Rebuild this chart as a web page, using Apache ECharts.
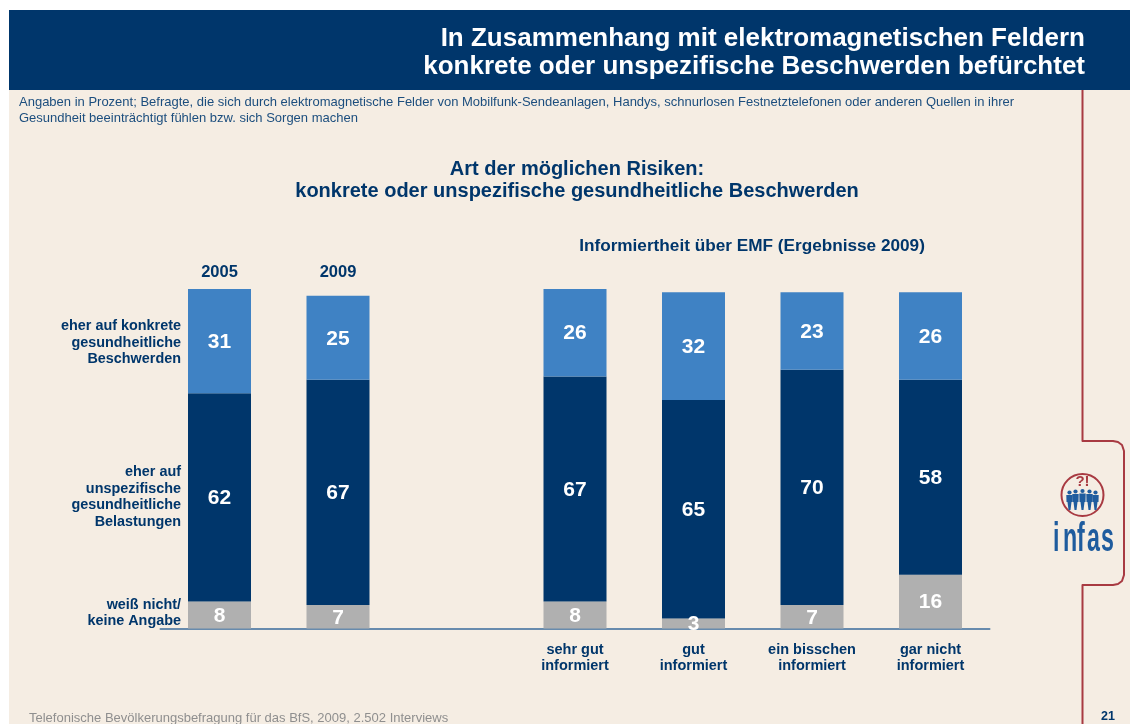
<!DOCTYPE html>
<html><head><meta charset="utf-8">
<style>html,body{margin:0;padding:0;background:#fff}#c{width:1130px;height:724px}</style>
<script src="https://cdn.jsdelivr.net/npm/echarts@6/dist/echarts.min.js"></script>
</head><body><div id="c"></div>
<script>
const categories = ['', '', '', 'sehr gut\ninformiert', 'gut\ninformiert', 'ein bisschen\ninformiert', 'gar nicht\ninformiert'];
const yearLabels = ['2005', '2009', '', '', '', '', ''];
const seriesNames = ['weiß nicht/keine Angabe', 'eher auf unspezifische gesundheitliche Belastungen', 'eher auf konkrete gesundheitliche Beschwerden'];
const unknownValues = [8, 7, null, 8, 3, 7, 16];
const unspecificValues = [62, 67, null, 67, 65, 70, 58];
const concreteValues = [31, 25, null, 26, 32, 23, 26];
const rowLabels = [
  {text: 'eher auf konkrete\ngesundheitliche\nBeschwerden', y: 343},
  {text: 'eher auf\nunspezifische\ngesundheitliche\nBelastungen', y: 497},
  {text: 'weiß nicht/\nkeine Angabe', y: 613}
];
const NAVY = '#00366B', BLUE = '#3F82C4', GREY = '#B0B0B0', BEIGE = '#F5EDE3', RED = '#A83A42', LOGO = '#1F5C9E';
const FONT = '"Liberation Sans", Arial, sans-serif';

function txt(x, y, text, size, opts) {
  return {type: 'text', x: x, y: y, silent: true, z: 10, style: Object.assign({
    text: text, fontFamily: FONT, fontSize: size, fill: NAVY, verticalAlign: 'middle', align: 'left'
  }, opts || {})};
}
const peopleX = [1069.5, 1075.5, 1082.5, 1089.5, 1095.5];
const people = [];
peopleX.forEach(function (px, i) {
  const off = (i === 2 ? 0 : (i === 1 || i === 3 ? 0.5 : 1.5));
  people.push({type: 'circle', silent: true, z: 10, shape: {cx: px, cy: 491 + off, r: 2.1}, style: {fill: LOGO}});
  people.push({type: 'polygon', silent: true, z: 10, shape: {points: [
    [px - 3.2, 493.5 + off], [px + 3.2, 493.5 + off], [px + 3, 502], [px + 2, 502], [px + 1, 510], [px - 1, 510], [px - 2, 502], [px - 3, 502]
  ]}, style: {fill: LOGO}});
});
const logoLetters = [['i', 1053], ['n', 1063], ['f', 1077], ['a', 1087], ['s', 1101]];

const bar = function (name, data, color) {
  return {
    name: name, type: 'bar', stack: 'total', data: data, barWidth: 63,
    itemStyle: {color: color},
    label: {show: true, position: 'inside', offset: [0, 1], color: '#fff', fontFamily: FONT, fontWeight: 'bold', fontSize: 21}
  };
};

const chart = echarts.init(document.getElementById('c'), null, {renderer: 'canvas'});
chart.setOption({
  animation: false,
  backgroundColor: '#fff',
  title: [
    {text: 'In Zusammenhang mit elektromagnetischen Feldern\nkonkrete oder unspezifische Beschwerden befürchtet',
     left: 1085, top: 25, padding: 0, textAlign: 'right', z: 10,
     textStyle: {color: '#fff', fontFamily: FONT, fontWeight: 'bold', fontSize: 26, lineHeight: 28}},
    {text: 'Art der möglichen Risiken:\nkonkrete oder unspezifische gesundheitliche Beschwerden',
     left: 577, top: 158, padding: 0, textAlign: 'center', z: 10,
     textStyle: {color: NAVY, fontFamily: FONT, fontWeight: 'bold', fontSize: 20, lineHeight: 22}}
  ],
  grid: {left: 160.25, top: 289, width: 829.5, height: 339.5, containLabel: false},
  xAxis: [
    {type: 'category', position: 'bottom', data: categories,
     axisTick: {show: false},
     axisLine: {show: true, lineStyle: {color: '#3A6B9C', width: 1.5}},
     axisLabel: {interval: 0, margin: 13, color: NAVY, fontFamily: FONT, fontWeight: 'bold', fontSize: 14.5, lineHeight: 16}},
    {type: 'category', position: 'top', data: yearLabels,
     axisTick: {show: false}, axisLine: {show: false},
     axisLabel: {interval: 0, margin: 8, color: NAVY, fontFamily: FONT, fontWeight: 'bold', fontSize: 16.5}}
  ],
  yAxis: {type: 'value', min: 0, max: 101, show: false},
  series: [
    bar(seriesNames[0], unknownValues, GREY),
    bar(seriesNames[1], unspecificValues, NAVY),
    bar(seriesNames[2], concreteValues, BLUE)
  ],
  graphic: [
    {type: 'rect', silent: true, z: -10, zlevel: -1, shape: {x: 9, y: 10, width: 1121, height: 714}, style: {fill: BEIGE}},
    {type: 'rect', silent: true, z: -9, zlevel: -1, shape: {x: 9, y: 10, width: 1121, height: 80}, style: {fill: NAVY}},
    {type: 'polyline', silent: true, z: -8, zlevel: -1, shape: {points: [[1082.5,90],[1082.5,441],[1113,441],[1118,442],[1122,445],[1124,451],[1124,575],[1122,581],[1118,584],[1113,585],[1082.5,585],[1082.5,724]]},
     style: {fill: 'none', stroke: RED, lineWidth: 2, lineJoin: 'round'}},
    txt(19, 102, 'Angaben in Prozent; Befragte, die sich durch elektromagnetische Felder von Mobilfunk-Sendeanlagen, Handys, schnurlosen Festnetztelefonen oder anderen Quellen in ihrer', 13, {fill: '#1C4E7E'}),
    txt(19, 118, 'Gesundheit beeinträchtigt fühlen bzw. sich Sorgen machen', 13, {fill: '#1C4E7E'}),
    txt(752, 246.5, 'Informiertheit über EMF (Ergebnisse 2009)', 17.2, {fontWeight: 'bold', align: 'center'}),
    ...rowLabels.map(function (r) {
      return txt(181, r.y, r.text, 14.4, {fontWeight: 'bold', align: 'right', lineHeight: 16.5});
    }),
    txt(29, 718, 'Telefonische Bevölkerungsbefragung für das BfS, 2009, 2.502 Interviews', 13, {fill: '#8F8F8F'}),
    txt(1108, 717, '21', 12.5, {fontWeight: 'bold', align: 'center'}),
    {type: 'circle', silent: true, z: 10, shape: {cx: 1082.5, cy: 495, r: 21}, style: {fill: 'none', stroke: RED, lineWidth: 2}},
    txt(1082.5, 482, '?!', 15, {fontWeight: 'bold', align: 'center', fill: RED}),
    ...people,
    ...logoLetters.map(function (l) {
      return {type: 'text', silent: true, z: 10, x: l[1], y: 540, scaleX: 0.58, style: {
        text: l[0], fontFamily: FONT, fontWeight: 'bold', fontSize: 40, fill: LOGO, verticalAlign: 'middle', align: 'left'}};
    })
  ]
});
</script></body></html>
